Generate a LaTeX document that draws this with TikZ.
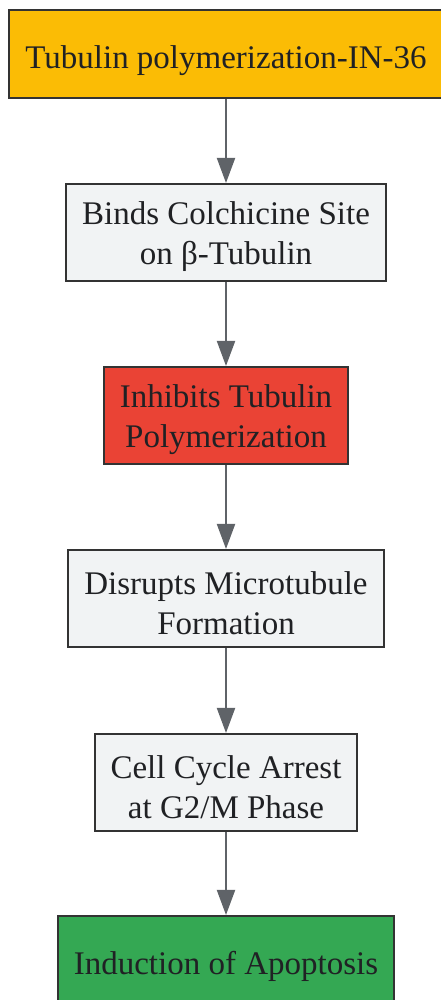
\documentclass[tikz,border=0pt]{standalone}
\usepackage{fontspec}
\setmainfont{Liberation Serif}
\usepackage{tikz}
\usetikzlibrary{arrows.meta}
\definecolor{startcol}{HTML}{FBBC05}
\definecolor{stepcol}{HTML}{F1F3F4}
\definecolor{keycol}{HTML}{EA4335}
\definecolor{endcol}{HTML}{34A853}
\definecolor{edgecol}{HTML}{5F6368}
\definecolor{framecol}{HTML}{333333}
\definecolor{inkcol}{HTML}{202124}

\begin{document}
\begin{tikzpicture}[x=1pt,y=1pt]
\tikzstyle{box}=[rectangle,draw=framecol,line width=2pt,text=inkcol,align=center,inner xsep=16pt,font=\fontsize{33}{40}\selectfont]
\tikzstyle{stage}=[box,minimum height=97pt,execute at begin node=\rule{0pt}{72pt}]
\tikzstyle{tip}=[box,minimum height=88pt,execute at begin node=\rule{0pt}{37pt}]
\tikzstyle{flow}=[draw=edgecol,line width=2pt,-{Triangle[length=25pt,width=18pt]}]
\useasboundingbox (0,0) rectangle (440,1000);
\node [tip,fill=startcol] (drug) at (226,946) {Tubulin polymerization-IN-36};
\node [stage,fill=stepcol] (bind) at (226,767.5) {Binds Colchicine Site\\on β-Tubulin};
\node [stage,fill=keycol] (inhib) at (226,584.5) {Inhibits Tubulin\\Polymerization};
\node [stage,fill=stepcol] (disrupt) at (226,401.5) {Disrupts Microtubule\\Formation};
\node [stage,fill=stepcol] (arrest) at (226,217.5) {Cell Cycle Arrest\\at G2/M Phase};
\node [tip,fill=endcol] (apop) at (226,40) {Induction of Apoptosis};
\draw [flow] (drug) -- (bind);
\draw [flow] (bind) -- (inhib);
\draw [flow] (inhib) -- (disrupt);
\draw [flow] (disrupt) -- (arrest);
\draw [flow] (arrest) -- (apop);
\end{tikzpicture}
\end{document}
